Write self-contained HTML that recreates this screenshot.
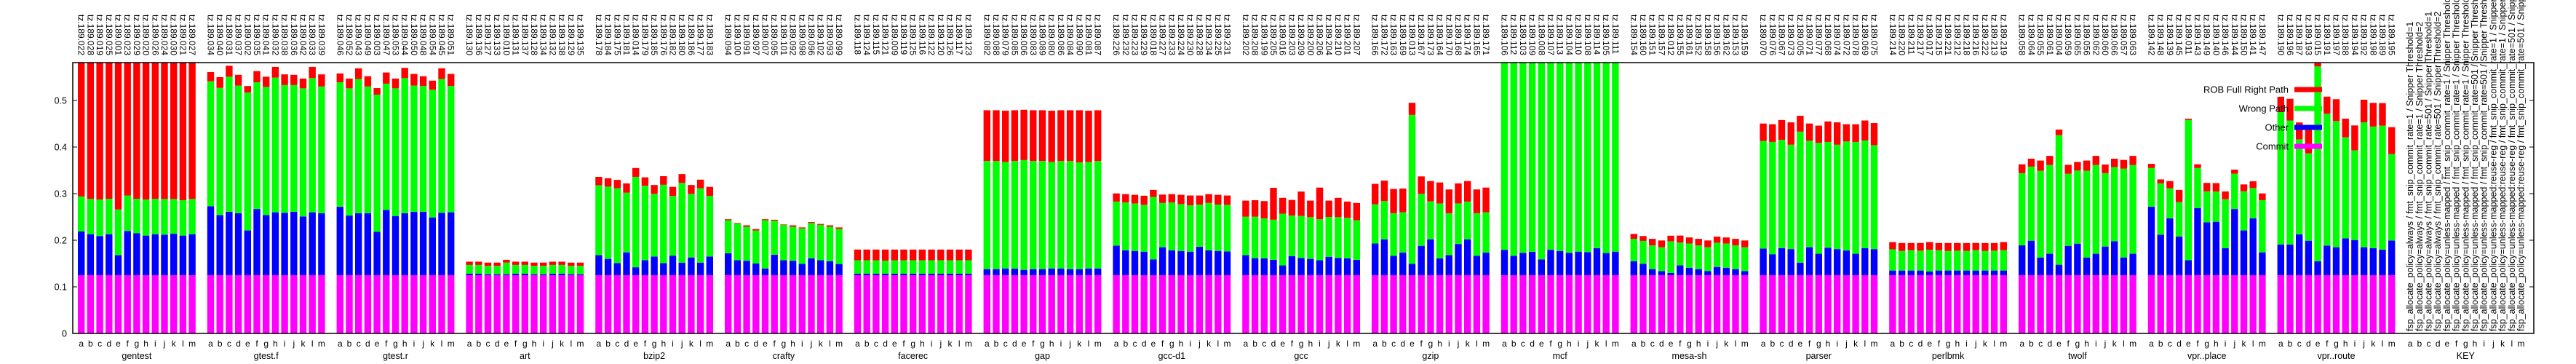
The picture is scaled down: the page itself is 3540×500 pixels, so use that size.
<!DOCTYPE html>
<html><head><meta charset="utf-8"><style>
html,body{margin:0;padding:0;background:#fff;}
svg{display:block;font-family:"Liberation Sans",sans-serif;}
</style></head><body>
<svg id="chart" width="3540" height="500" viewBox="0 0 3540 500">
<defs><clipPath id="plotclip"><rect x="100" y="86" width="3382" height="372"/></clipPath></defs>
<g id="bars" clip-path="url(#plotclip)"></g>
<g id="axes"></g>
</svg>
<script>
const groups = ["gentest","gtest.f","gtest.r","art","bzip2","crafty","facerec","gap","gcc-d1","gcc","gzip","mcf","mesa-sh","parser","perlbmk","twolf","vpr..place","vpr..route","KEY"];
const letters = ["a","b","c","d","e","f","g","h","i","j","k","l","m"];
const yTicks = [0,0.1,0.2,0.3,0.4,0.5];
const yTickLabels = ["0","0.1","0.2","0.3","0.4","0.5"];
const seriesNames = ["ROB Full Right Path","Wrong Path","Other","Commit"];
const labelIds = [
[22,28,19,25,1,23,29,20,26,24,30,21,27],
[34,40,31,37,2,35,41,32,38,36,42,33,39],
[46,52,43,49,3,47,53,44,50,48,54,45,51],
[130,136,127,133,10,131,137,128,134,132,138,129,135],
[178,184,175,181,14,179,185,176,182,180,186,177,183],
[94,100,91,97,7,95,101,92,98,96,102,93,99],
[118,124,115,121,9,119,125,116,122,120,126,117,123],
[82,88,79,85,6,83,89,80,86,84,90,81,87],
[226,232,223,229,18,227,233,224,230,228,234,225,231],
[202,208,199,205,16,203,209,200,206,204,210,201,207],
[166,172,163,169,13,167,173,164,170,168,174,165,171],
[106,112,103,109,8,107,113,104,110,108,114,105,111],
[154,160,151,157,12,155,161,152,158,156,162,153,159],
[70,76,67,73,5,71,77,68,74,72,78,69,75],
[214,220,211,217,17,215,221,212,218,216,222,213,219],
[58,64,55,61,4,59,65,56,62,60,66,57,63],
[142,148,139,145,11,143,149,140,146,144,150,141,147],
[190,196,187,193,15,191,197,188,194,192,198,189,195]
];
const keyLabels = [
"fsp_allocate_policy=always / fmt_snip_commit_rate=1 / Snipper Threshold=1",
"fsp_allocate_policy=always / fmt_snip_commit_rate=1 / Snipper Threshold=2",
"fsp_allocate_policy=always / fmt_snip_commit_rate=501 / Snipper Threshold=1",
"fsp_allocate_policy=always / fmt_snip_commit_rate=501 / Snipper Threshold=2",
"fsp_allocate_policy=unless-mapped / fmt_snip_commit_rate=1 / Snipper Threshold=0",
"fsp_allocate_policy=unless-mapped / fmt_snip_commit_rate=1 / Snipper Threshold=1",
"fsp_allocate_policy=unless-mapped / fmt_snip_commit_rate=1 / Snipper Threshold=2",
"fsp_allocate_policy=unless-mapped / fmt_snip_commit_rate=501 / Snipper Threshold=1",
"fsp_allocate_policy=unless-mapped / fmt_snip_commit_rate=501 / Snipper Threshold=2",
"fsp_allocate_policy=unless-mapped:reuse-reg / fmt_snip_commit_rate=1 / Snipper Threshold=1",
"fsp_allocate_policy=unless-mapped:reuse-reg / fmt_snip_commit_rate=1 / Snipper Threshold=2",
"fsp_allocate_policy=unless-mapped:reuse-reg / fmt_snip_commit_rate=501 / Snipper Threshold=1",
"fsp_allocate_policy=unless-mapped:reuse-reg / fmt_snip_commit_rate=501 / Snipper Threshold=2"
];
const commitVals = [
[.125,.125,.125,.125,.125,.125,.125,.125,.125,.125,.125,.125,.125],
[.125,.125,.125,.125,.125,.125,.125,.125,.125,.125,.125,.125,.125],
[.125,.125,.125,.125,.125,.125,.125,.125,.125,.125,.125,.125,.125],
[.125,.125,.125,.125,.125,.125,.125,.125,.125,.125,.125,.125,.125],
[.125,.125,.125,.125,.125,.125,.125,.125,.125,.125,.125,.125,.125],
[.125,.125,.125,.125,.125,.125,.125,.125,.125,.125,.125,.125,.125],
[.125,.125,.125,.125,.125,.125,.125,.125,.125,.125,.125,.125,.125],
[.125,.125,.125,.125,.125,.125,.125,.125,.125,.125,.125,.125,.125],
[.125,.125,.125,.125,.125,.125,.125,.125,.125,.125,.125,.125,.125],
[.125,.125,.125,.125,.125,.125,.125,.125,.125,.125,.125,.125,.125],
[.125,.125,.125,.125,.125,.125,.125,.125,.125,.125,.125,.125,.125],
[.125,.125,.125,.125,.125,.125,.125,.125,.125,.125,.125,.125,.125],
[.125,.125,.125,.125,.125,.125,.125,.125,.125,.125,.125,.125,.125],
[.125,.125,.125,.125,.125,.125,.125,.125,.125,.125,.125,.125,.125],
[.125,.125,.125,.125,.125,.125,.125,.125,.125,.125,.125,.125,.125],
[.125,.125,.125,.125,.125,.125,.125,.125,.125,.125,.125,.125,.125],
[.125,.125,.125,.125,.125,.125,.125,.125,.125,.125,.125,.125,.125],
[.125,.125,.125,.125,.125,.125,.125,.125,.125,.125,.125,.125,.125]
];
const otherVals = [
[.094,.088,.084,.088,.043,.095,.090,.085,.088,.087,.089,.085,.088],
[.148,.129,.136,.133,.096,.142,.129,.135,.134,.136,.126,.135,.133],
[.147,.128,.133,.133,.093,.140,.127,.133,.136,.136,.124,.134,.135],
[.003,.003,.002,.002,.002,.003,.003,.002,.002,.003,.003,.002,.002],
[.043,.035,.026,.049,.017,.032,.040,.026,.042,.027,.038,.027,.040],
[.047,.032,.031,.025,.0145,.044,.032,.031,.0245,.036,.032,.030,.024],
[.003,.003,.003,.003,.003,.003,.003,.003,.003,.003,.003,.003,.003],
[.013,.013,.0145,.014,.0115,.013,.013,.0145,.0145,.013,.013,.0145,.0145],
[.0635,.0535,.052,.0505,.034,.060,.0535,.052,.0505,.061,.0535,.052,.051],
[.043,.0365,.036,.033,.021,.041,.037,.035,.032,.0395,.037,.036,.033],
[.068,.077,.0415,.0485,.0245,.063,.077,.036,.043,.067,.077,.0415,.0485],
[.0545,.0415,.048,.050,.034,.0545,.052,.048,.0505,.0495,.058,.0475,.0505],
[.030,.0245,.013,.009,.0047,.021,.016,.013,.009,.0177,.016,.013,.009],
[.057,.045,.058,.056,.027,.060,.046,.059,.056,.053,.046,.058,.056],
[.010,.010,.010,.010,.008,.010,.010,.010,.010,.010,.010,.010,.010],
[.064,.074,.038,.046,.0225,.063,.0677,.038,.046,.0615,.073,.038,.046],
[.147,.087,.122,.083,.032,.144,.1135,.1146,.058,.142,.096,.122,.049],
[.066,.066,.0875,.074,.030,.0635,.060,.079,.0755,.060,.058,.055,.0745]
];
const wrongVals = [
[.075,.0755,.0785,.076,.098,.076,.074,.0775,.076,.0765,.0745,.076,.0755],
[.268,.273,.290,.274,.296,.272,.275,.289,.274,.272,.275,.288,.272],
[.267,.273,.288,.272,.2945,.271,.274,.290,.271,.270,.274,.287,.271],
[.019,.019,.018,.018,.025,.019,.019,.018,.018,.019,.019,.018,.018],
[.150,.155,.1605,.128,.194,.160,.1345,.168,.128,.171,.1365,.1595,.130],
[.071,.079,.073,.071,.1035,.073,.076,.073,.076,.076,.076,.074,.0755],
[.029,.029,.029,.028,.029,.029,.029,.029,.029,.029,.029,.029,.029],
[.232,.232,.2285,.231,.2355,.232,.232,.2285,.2305,.232,.229,.2285,.2305],
[.0945,.1025,.102,.1005,.134,.095,.1025,.1005,.0995,.0905,.1015,.0995,.100],
[.0825,.089,.086,.086,.111,.087,.090,.0895,.088,.0855,.0875,.087,.085],
[.084,.082,.0915,.0865,.3195,.1115,.0815,.118,.090,.087,.081,.0915,.0865],
[.45,.45,.45,.45,.45,.45,.45,.45,.45,.45,.45,.45,.45],
[.048,.049,.051,.051,.068,.049,.052,.051,.051,.052,.052,.051,.051],
[.231,.241,.2325,.224,.281,.2285,.238,.227,.224,.234,.240,.231,.223],
[.0455,.042,.0436,.0426,.0467,.0436,.042,.0426,.042,.0436,.042,.0426,.0436],
[.155,.159,.186,.1905,.278,.1547,.1568,.186,.1905,.1575,.159,.1906,.1905],
[.083,.110,.0645,.074,.301,.086,.0665,.065,.105,.0757,.084,.065,.112],
[.284,.266,.204,.1875,.418,.283,.2707,.217,.1925,.268,.261,.266,.1855]
];
const robVals = [
[.35,.35,.35,.35,.35,.35,.35,.35,.35,.35,.35,.35,.35],
[.020,.023,.0235,.023,.014,.024,.022,.023,.023,.022,.021,.024,.026],
[.019,.021,.023,.022,.014,.024,.021,.022,.025,.021,.0195,.023,.026],
[.007,.007,.007,.007,.006,.007,.007,.007,.007,.007,.007,.007,.007],
[.018,.018,.018,.020,.019,.018,.019,.0185,.0195,.019,.019,.0185,.0195],
[.002,.001,.003,.003,.002,.002,.001,.003,.002,.002,.002,.003,.003],
[.023,.023,.023,.024,.023,.023,.023,.023,.023,.023,.023,.023,.023],
[.109,.109,.110,.109,.108,.109,.109,.110,.109,.109,.112,.110,.109],
[.0175,.018,.0185,.0195,.015,.018,.018,.020,.021,.0195,.019,.021,.020],
[.0345,.0355,.037,.0685,.034,.0335,.0525,.0355,.068,.035,.0415,.035,.037],
[.044,.044,.052,.051,.026,.0375,.0435,.045,.051,.043,.044,.051,.053],
[.05,.05,.05,.05,.05,.05,.05,.05,.05,.05,.05,.05,.05],
[.0105,.0105,.014,.0145,.012,.015,.013,.014,.0145,.013,.013,.014,.0145],
[.0375,.038,.0425,.048,.034,.037,.037,.044,.048,.037,.038,.043,.0475],
[.0155,.017,.0155,.0165,.0165,.0155,.017,.0165,.017,.0155,.017,.0165,.0175],
[.019,.017,.022,.0195,.012,.0193,.0185,.022,.0195,.0185,.018,.0188,.0195],
[.009,.0086,.0155,.026,.0027,.008,.018,.018,.0167,.0089,.0148,.0145,.0145],
[.033,.0466,.0363,.0585,.007,.0367,.047,.040,.0534,.0486,.0508,.0483,.0577]
];
const seriesColors = ["#ff0000","#00ff00","#0000ff","#ff00ff"];

const NS = "http://www.w3.org/2000/svg";
const PL = 100, PR = 3482, PT = 86, PB = 458, YMAX = 0.58125;
function yScale(v){ return PB - v / YMAX * (PB - PT); }
function xScale(g, j){ return 111.7 + (g * 14 + j) * 12.7; }
const BW = 9.4;
function mk(tag, attrs, parent){ const e = document.createElementNS(NS, tag); for (const k in attrs) e.setAttribute(k, attrs[k]); parent.appendChild(e); return e; }

const barsG = document.getElementById("bars");
const axesG = document.getElementById("axes");
const seriesArr = [commitVals, otherVals, wrongVals, robVals];
const segColors = ["#ff00ff","#0000ff","#00ff00","#ff0000"];
const segNames = ["commit","other","wrong-path","rob-full"];

for (let g = 0; g < labelIds.length; g++) {
  for (let j = 0; j < 13; j++) {
    const cx = xScale(g, j);
    let base = 0;
    for (let s = 0; s < 4; s++) {
      const v = seriesArr[s][g][j];
      const y0 = yScale(base), y1 = yScale(base + v);
      const r = mk("rect", {x: cx - BW/2, y: y1, width: BW, height: Math.max(0, y0 - y1), fill: segColors[s]}, barsG);
      
      
      base += v;
    }
    const t = mk("text", {x: cx, y: 20, "font-size": 12, fill: "#000", "dominant-baseline": "central", transform: "rotate(90 " + cx + " 20)"}, axesG);
    t.textContent = "tz.189." + String(labelIds[g][j]).padStart(3, "0");
    
    
  }
}
// KEY group labels
for (let j = 0; j < 13; j++) {
  const cx = xScale(18, j);
  const t = mk("text", {x: cx, y: 455, "font-size": 12.5, fill: "#000", "dominant-baseline": "central", transform: "rotate(-90 " + cx + " 455)"}, axesG);
  t.textContent = keyLabels[j];
  
  
}
// x letters and group labels
for (let g = 0; g < groups.length; g++) {
  for (let j = 0; j < 13; j++) {
    const t = mk("text", {x: xScale(g, j), y: 476, "font-size": 12, "text-anchor": "middle", fill: "#000"}, axesG);
    t.textContent = letters[j];
    
    
  }
  const gl = mk("text", {x: xScale(g, 6), y: 493, "font-size": 12.5, "text-anchor": "middle", fill: "#000"}, axesG);
  gl.textContent = groups[g];
  
  
}
// y ticks
for (let i = 0; i < yTicks.length; i++) {
  const y = yScale(yTicks[i]);
  const t = mk("text", {x: 92, y: y + 4.5, "font-size": 12.5, "text-anchor": "end", fill: "#000"}, axesG);
  t.textContent = yTickLabels[i];
  
  
  if (i > 0) {
    const a = mk("line", {x1: PL, x2: PL + 6, y1: y, y2: y, stroke: "#000", "stroke-width": 1}, axesG);
    
    
    const b = mk("line", {x1: PR - 6, x2: PR, y1: y, y2: y, stroke: "#000", "stroke-width": 1}, axesG);
    
    
  }
}
// border
const border = mk("rect", {x: PL, y: PT, width: PR - PL, height: PB - PT, fill: "none", stroke: "#000", "stroke-width": 1.5}, axesG);


// legend
for (let i = 0; i < seriesNames.length; i++) {
  const ly = 123 + i * 26;
  const t = mk("text", {x: 3145, y: ly + 4.5, "font-size": 13, "text-anchor": "end", fill: "#000"}, axesG);
  t.textContent = seriesNames[i];
  
  
  const s = mk("rect", {x: 3153, y: ly - 3.5, width: 38, height: 7, fill: seriesColors[i]}, axesG);
  
  
}
</script>
</body></html>
